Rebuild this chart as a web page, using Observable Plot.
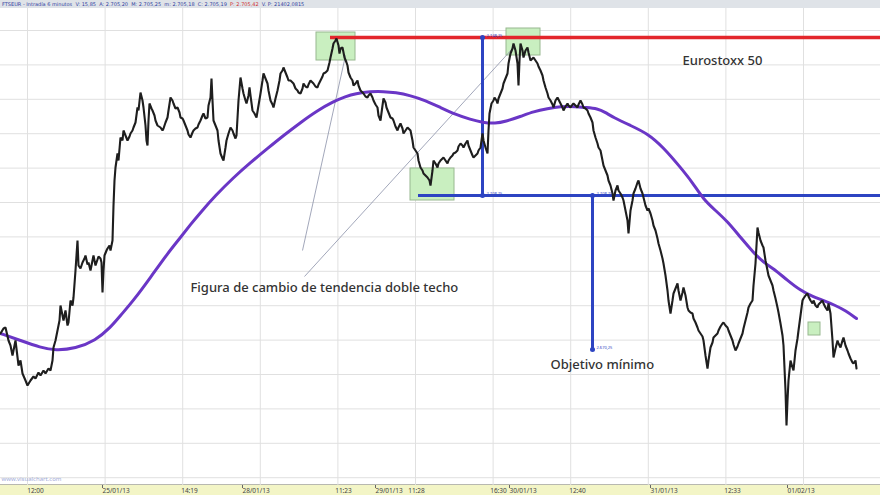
<!DOCTYPE html>
<html><head><meta charset="utf-8">
<script src="https://cdn.jsdelivr.net/npm/d3@7"></script>
<script src="https://cdn.jsdelivr.net/npm/@observablehq/plot@0.6"></script>
<style>
html,body{margin:0;padding:0;background:#fff;}
#wrap{width:880px;height:495px;position:relative;overflow:hidden;}
#hdr{height:8px;background:#dfe3e8;font:5px "DejaVu Sans",sans-serif;color:#3040a0;line-height:8px;padding-left:2px;white-space:nowrap;overflow:hidden;}
#hdr .r{color:#d03030;}
</style></head>
<body><div id="wrap"><div id="hdr">FTSEUR - Intradía 6 minutos &nbsp;V: 15,85 &nbsp;A: 2.705,20 &nbsp;M: 2.705,25 &nbsp;m: 2.705,18 &nbsp;C: 2.705,19 &nbsp;<span class="r">P: 2.705,42</span> &nbsp;V. P: 21402,0815</div><div id="chart"></div></div>
<script>
// Eurostoxx 50 intraday (6-minute bars), bar index vs price
const bars = [0,3,5,8,10,12,15,18,20,22,25,27,30,33,35,38,40,43,45,48,50,52,53,55,57,59,60,62,63,65,67,68,70,72,73,75,77,78,80,82,84,85,87,88,90,92,93,95,96,98,100,101,102,103,104,106,107,109,110,112,113,114,115,117,118,120,122,123,125,127,129,130,132,133,135,137,138,140,142,143,145,146,147,148,149,151,152,154,155,157,160,162,163,165,167,168,170,172,173,175,177,179,180,182,183,185,187,188,190,192,193,195,197,198,200,202,203,205,207,208,210,211,212,213,215,217,218,220,222,223,225,226,228,230,232,233,235,236,238,240,242,243,245,246,248,249,250,252,254,256,258,260,262,263,265,267,268,270,272,273,275,277,279,280,282,283,285,287,288,290,292,293,295,297,298,300,302,303,305,307,308,310,312,313,315,317,318,320,322,323,325,327,329,330,332,333,335,336,338,339,340,342,343,344,346,347,348,350,352,353,355,357,358,360,362,363,365,367,368,370,372,373,375,377,378,380,382,383,385,386,388,390,392,393,395,397,398,400,402,403,405,407,408,410,412,413,415,417,418,420,422,423,425,427,429,430,432,433,435,437,438,440,442,443,445,447,448,450,452,453,455,457,458,460,462,463,465,467,468,470,472,473,475,477,478,480,482,483,485,487,488,489,490,491,493,494,496,497,498,500,502,503,505,507,508,510,512,513,515,517,518,519,520,522,523,525,527,528,530,532,533,535,537,538,540,542,543,545,547,548,550,552,553,555,557,558,560,562,563,565,567,568,570,572,573,575,577,578,580,582,583,585,587,588,590,592,593,595,597,598,600,602,603,605,607,608,610,612,613,615,617,618,620,622,623,625,627,628,630,632,633,635,637,638,640,642,643,645,647,648,650,652,653,655,657,658,660,662,663,665,667,668,670,672,673,675,677,678,680,682,683,685,687,688,690,692,693,695,697,698,700,702,703,705,707,708,710,712,713,715,717,718,720,722,723,725,727,728,730,732,733,735,737,738,740,742,743,745,747,748,750,752,753,755,757,758,760,762,763,765,767,768,770,772,773,775,777,778,780,782,783,785,786,787,788,790,792,793,795,797,798,800,802,803,805,807,808,810,812,813,815,817,818,820,822,823,825,827,828,830,832,833,835,837,838,840,842,843,845,847,848,850,852,853,855,856];
const price = [2674.25,2675.5,2675.75,2672.5,2671.25,2668.75,2672.5,2666.25,2667.5,2664.25,2662.5,2661.25,2662.5,2663.5,2663,2664.5,2663.75,2665,2664.25,2665.5,2665,2667.5,2670.75,2672.5,2675,2677.5,2681.25,2678.75,2677.5,2680,2676.25,2677,2682.5,2681.25,2683.25,2690,2697.5,2691.25,2690.5,2692,2693,2693.75,2691.5,2692,2690,2692.5,2693.75,2691.25,2692,2693.5,2693,2692,2684.5,2690,2693.75,2695,2695.5,2696.25,2695,2697.5,2706.25,2712.5,2715.75,2719.25,2717.5,2723.25,2722.5,2725,2723.75,2722.5,2723.5,2724.25,2725,2725.75,2727,2730.75,2730,2734.5,2732.5,2730.75,2726.25,2722.5,2721.25,2727.5,2731.75,2730.5,2730,2728.75,2727.5,2726.25,2725.75,2725,2725.5,2727,2728.25,2730,2733.25,2732.5,2731.75,2730.5,2730.75,2729.5,2728.25,2728,2727.5,2726.25,2725,2724,2723.25,2724.5,2725,2725.5,2725.75,2726.5,2727.5,2728.75,2729.25,2728,2728.25,2731.25,2733.25,2738,2732.5,2727.5,2726.25,2725,2722.5,2719.25,2718,2717.5,2720.75,2722.5,2724.25,2725.75,2725,2724.25,2723,2723.75,2732.5,2738.25,2735.5,2734.25,2732.5,2731.75,2733.75,2735.75,2733.75,2730,2729.25,2728.25,2731.25,2734.25,2737.5,2739.25,2738,2736.75,2735,2732.5,2731.5,2730.75,2733,2735,2737.5,2739.25,2740,2740.75,2739.5,2738.25,2737.5,2737.5,2737,2736.75,2735.5,2735,2734.5,2734.25,2735.5,2736.75,2736,2735.75,2736.5,2737.5,2737,2736.75,2736,2735.75,2736.5,2737.5,2738.5,2739.25,2739.5,2740,2742,2743.25,2745.5,2746.75,2747.5,2748,2746.25,2744.25,2745.5,2745.75,2744.5,2743.25,2742,2741.25,2739.5,2738.25,2737.5,2736.25,2736.75,2737.5,2736.25,2735,2734.5,2734.25,2733.5,2733.25,2733.75,2734.25,2733.25,2732.5,2731.5,2730.75,2728.75,2727.5,2731.25,2733,2732,2730.75,2729.5,2728.25,2728,2727.5,2726,2725,2725.75,2726.75,2725.5,2724.25,2725,2725.75,2725.5,2725,2722.5,2720.75,2720,2719.25,2717.5,2715.75,2715,2714.25,2713.75,2713.25,2712.5,2711.25,2715,2717.5,2716.75,2715.75,2716.75,2717.5,2718,2718.25,2717.5,2716.75,2717.5,2718.25,2718.75,2719.25,2719.5,2720,2721,2721.75,2721.25,2720.75,2721.75,2722.5,2721.25,2720,2718.75,2718.25,2718.75,2719.25,2720,2720.75,2724.25,2722.5,2720.75,2719.25,2725,2729.25,2730.5,2731.75,2732.5,2733.25,2732.5,2731.75,2733,2734.25,2735.5,2736.75,2738,2739.25,2741.75,2744.25,2745.5,2746.75,2745,2741.75,2736.25,2742.5,2746.75,2745,2743.25,2745,2745.75,2744.5,2742.5,2743,2743.25,2742.5,2741.75,2741,2740,2738.75,2737.5,2735.75,2734.25,2733.25,2732.5,2731.5,2730.75,2732.5,2733.25,2732.75,2731.75,2730.75,2730,2731,2731.75,2731.25,2730.75,2731.5,2731.75,2731.25,2730.75,2731.5,2732.5,2731.5,2730.75,2730.5,2730,2729.25,2728.25,2727,2725,2723.25,2721.75,2720.75,2720,2717.5,2716.25,2715,2713.75,2712.5,2711.25,2709.25,2707.5,2710,2711.25,2710,2709.25,2708.25,2707.5,2705,2702.5,2699.25,2705,2707.5,2709.25,2710.5,2712,2712.5,2710.5,2709.25,2708.25,2706.25,2705,2705.5,2704.25,2702.5,2701.25,2700,2698,2696.75,2695,2693,2691.75,2688.75,2685,2682.5,2679.25,2682.5,2684.25,2685.5,2686.75,2685,2682.5,2684.5,2685.75,2683.75,2680.75,2680,2679.5,2679.25,2678,2677,2675.75,2675,2674.25,2673.5,2672.5,2668.75,2665.5,2667.5,2670.75,2672,2673.25,2673.75,2674.25,2675,2676,2676.75,2677,2676.25,2675.75,2675,2673.75,2672.5,2671.5,2670,2671,2671.75,2673,2674.25,2675.5,2677.5,2679.5,2680.75,2681.75,2682.5,2686.25,2691.75,2700.75,2699.5,2697.5,2696.25,2695.75,2692.5,2690,2688.75,2687.5,2686.25,2685,2683,2680.75,2679.5,2676.75,2673.75,2671.25,2660,2651.25,2657.5,2662.5,2667.5,2665.75,2665,2670,2673,2675,2678.75,2682.5,2683,2683.75,2684.25,2683.5,2682.5,2681.75,2682.5,2681.25,2680.75,2681.5,2682,2682.5,2681.75,2680.75,2680,2681.75,2679.25,2672.5,2668.25,2670.5,2672.5,2671.75,2670.75,2672.5,2673.25,2671.25,2670,2669.25,2668,2667,2666.75,2667.5,2665.5];

// Moving average
const maBars = [0,20,40,55,75,95,110,120,133,150,167,180,190,200,215,233,250,267,283,300,317,333,345,355,370,383,395,410,425,440,455,470,482,495,505,520,533,547,560,575,585,597,605,613,630,647,663,680,692,703,715,727,740,753,763,773,787,800,812,823,835,845,856];
const maPrice = [2674.25,2672.5,2670.75,2670,2670.5,2672.5,2675.75,2678.75,2682.5,2688.25,2694.25,2698.25,2701.5,2704.5,2708.75,2713.25,2717,2720.5,2723.75,2727,2730,2732.25,2733.5,2734.25,2734.75,2734.75,2734.5,2733.75,2732.5,2730.75,2729,2727.75,2727,2726.75,2727.25,2728.5,2729.75,2730.5,2731,2731,2730.75,2730.5,2729.5,2728.25,2726.25,2724.25,2720.75,2715.75,2712,2707.75,2705,2702.25,2698.25,2694.5,2692,2690.5,2687.5,2685,2683.5,2682.5,2681.25,2680,2678];

// Double-top levels
const resistance = 2748.25, neckline = 2708.75, target = 2670.25;
const resistanceFrom = 330, necklineFrom = 418, topsMeasureBar = 482, targetBar = 592;
const levelLabels = ["2.748,25","2.708,75","2.708,75","2.670,25"];

// Highlight boxes (bar range, price range)
const boxX1 = [316,410,506,808], boxX2 = [355,454,540,820];
const boxY1 = [2742.5,2707.5,2743.75,2673.75], boxY2 = [2749.5,2715.5,2750.5,2677];

// Connector lines from annotation to tops
const linkX1 = [302,304], linkY1 = [2695,2688.5], linkX2 = [345,513], linkY2 = [2743.75,2745.75];

// Text annotations
const noteText = ["Figura de cambio de tendencia doble techo","Objetivo mínimo","Eurostoxx 50"];
const noteX = [190,550,682], noteY = [2685.75,2666.5,2742.5];

// Axis ticks
const timeLabels = ["12:00","14:19","11:23","11:28","16:30","12:40","12:33"];
const timePos = [35,189,343,416,498,577,732];
const dateLabels = ["25/01/13","28/01/13","29/01/13","30/01/13","31/01/13","01/02/13"];
const datePos = [100,240,373,507,648,785];

const priceData = bars.map((b,i)=>({b, p: price[i]}));
const maData = maBars.map((b,i)=>({b, p: maPrice[i]}));
const boxes = boxX1.map((x,i)=>({x1:x,x2:boxX2[i],y1:boxY1[i],y2:boxY2[i]}));
const links = linkX1.map((x,i)=>({x1:x,y1:linkY1[i],x2:linkX2[i],y2:linkY2[i]}));
const notes = noteText.map((t,i)=>({t,x:noteX[i],y:noteY[i]}));
const vlines = [{x:topsMeasureBar,y1:resistance,y2:neckline},{x:targetBar,y1:neckline,y2:target}];
const dots = [{x:topsMeasureBar,y:resistance,l:levelLabels[0]},{x:topsMeasureBar,y:neckline,l:levelLabels[1]},{x:targetBar,y:neckline,l:levelLabels[2]},{x:targetBar,y:target,l:levelLabels[3]}];
const timeMap = new Map(timePos.map((p,i)=>[p,timeLabels[i]]));
const dateMap = new Map(datePos.map((p,i)=>[p,dateLabels[i]]));

const blue = "#2d44c2";
const plot = Plot.plot({
  width: 880, height: 487,
  marginTop: 0, marginBottom: 10, marginLeft: 0, marginRight: 0,
  x: {domain: [0, 880], axis: null},
  y: {domain: [2636.25, 2755.5], axis: null},
  style: {background: "transparent", overflow: "visible"},
  marks: [
    Plot.gridY(d3.range(0,14).map(k=>2750-8.6*k), {stroke:"#e0e0e0", strokeOpacity:1, strokeWidth:1}),
    Plot.gridX(d3.range(0,11).map(k=>27+77.6*k), {stroke:"#e0e0e0", strokeOpacity:1, strokeWidth:1}),
    Plot.rect(boxes, {x1:"x1",x2:"x2",y1:"y1",y2:"y2", fill:"#c9efc0", stroke:"#98b890", strokeWidth:1}),
    Plot.link(links, {x1:"x1",y1:"y1",x2:"x2",y2:"y2", stroke:"#8a90a8", strokeWidth:0.8}),
    Plot.ruleY([resistance], {x1: resistanceFrom, x2: 880, stroke:"#e3262b", strokeWidth:3.5}),
    Plot.ruleY([neckline], {x1: necklineFrom, x2: 880, stroke: blue, strokeWidth:3}),
    Plot.ruleX(vlines, {x:"x", y1:"y1", y2:"y2", stroke: blue, strokeWidth:3}),
    Plot.line(maData, {x:"b", y:"p", stroke:"#6a36c6", strokeWidth:3, curve:"basis"}),
    Plot.line(priceData, {x:"b", y:"p", stroke:"#1e1e1e", strokeWidth:2.1, strokeLinejoin:"miter"}),
    Plot.dot(dots, {x:"x", y:"y", r:2.5, fill: blue}),
    Plot.text(dots, {x:"x", y:"y", text:"l", fontSize:4, fill: blue, textAnchor:"start", dx:4, dy:-2}),
    Plot.text(notes, {x:"x", y:"y", text:"t", textAnchor:"start", fontSize:13, fill:"#333", fontFamily:"Noto Sans", fontWeight:500}),
    Plot.text(["www.visualchart.com"], {frameAnchor:"bottom-left", dx:1, dy:-5, fontSize:6, fill:"#9fabd8"}),
    Plot.axisX(timePos, {anchor:"bottom", tickSize:0, tickPadding:3, tickFormat: d=>timeMap.get(d), fontSize:6.5, fill:"#444", label:null}),
    Plot.axisX(datePos, {anchor:"bottom", tickSize:3, tickPadding:0, tickFormat: d=>dateMap.get(d), textAnchor:"start", dx:2, fontSize:6.5, fill:"#444", stroke:"#666", label:null})
  ]
});
plot.style.background = "linear-gradient(to bottom, #ffffff 0px, #ffffff 476px, #b8b8b0 476px, #b8b8b0 477px, #f3f5c6 477px)";
plot.style.display = "block";
document.getElementById("chart").appendChild(plot);
</script></body></html>
